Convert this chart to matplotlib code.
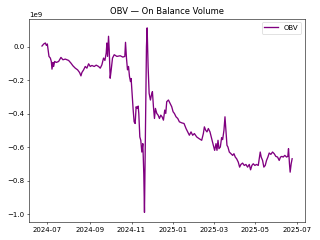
import pandas as pd
import matplotlib
matplotlib.use('Agg')
import matplotlib.pyplot as plt

# days after 2024-07-01
day_offsets = [
    -7.8, -5.3, -2.9, -1.5, 0, 1, 2.4, 4.4, 5.8, 6.8, 8.3, 9.2, 10.7, 13.1, 16.5,
    19.9, 22.8, 26.2, 31.1, 34.5, 37.4, 40.8, 44.2, 47.1, 49.1, 50.5, 53, 55.4,
    57.8, 60.3, 62.7, 65.1, 68.5, 71.4, 74.8, 77.3, 79.7, 82.1, 84.1, 86, 87, 88,
    89.4, 90.4, 91.8, 93.3, 95.2, 97.7, 101.6, 106.4, 110.3, 113.2, 114.2, 115.6,
    117.1, 118.6, 120, 121.5, 122.4, 123.9, 125.4, 126.8, 128.3, 129.7, 131.2,
    132.7, 133.6, 135.1, 136.5, 138, 139.5, 140.9, 141.9, 143.3, 144.8, 145.8,
    147.2, 148.7, 150.6, 152.1, 153.5, 155, 156.5, 157.9, 159.9, 161.8, 163.8,
    165.7, 167.6, 169.6, 171.5, 173, 174.4, 176.9, 179.3, 181.7, 183.7, 185.6,
    188, 190.5, 192.9, 196.3, 199.7, 202.6, 205, 207.5, 209.9, 212.3, 214.8,
    218.2, 221.6, 225.5, 227.9, 229.4, 231.3, 233.2, 235.2, 237.6, 240, 242.5,
    244.4, 246.4, 247.8, 249.3, 250.7, 252.7, 254.6, 256.1, 258, 259.5, 260.9,
    262.4, 263.8, 265.8, 268.2, 270.7, 272.6, 274.5, 276.5, 278.9, 280.9, 282.8,
    285.2, 287.7, 290.1, 292.5, 295, 296.9, 298.8, 300.8, 303.2, 305.6, 308.1,
    309.5, 311, 312.4, 314.4, 316.3, 318.3, 320.2, 322.2, 324.1, 326.5, 329,
    331.4, 333.8, 336.3, 338.7, 340.6, 342.6, 344.5, 346.9, 349.4, 351.3, 352.3,
    353.7, 354.7, 356.2, 357.6,
]

# OBV in units of 1e9
obv = [
    0.004, 0.016, 0.022, 0.008, 0.016, -0.014, -0.058, -0.068, -0.088, -0.134,
    -0.094, -0.118, -0.088, -0.094, -0.088, -0.064, -0.078, -0.074, -0.082,
    -0.098, -0.114, -0.128, -0.138, -0.154, -0.174, -0.154, -0.138, -0.118,
    -0.128, -0.102, -0.118, -0.112, -0.118, -0.11, -0.118, -0.128, -0.108,
    -0.068, -0.082, -0.038, 0.022, -0.058, 0.062, -0.018, -0.188, -0.138,
    -0.068, -0.048, -0.058, -0.054, -0.062, -0.058, 0.026, -0.068, -0.138,
    -0.118, -0.178, -0.208, -0.19, -0.288, -0.378, -0.448, -0.458, -0.358,
    -0.368, -0.354, -0.398, -0.538, -0.558, -0.628, -0.578, -0.758, -0.988,
    -0.518, 0.0, 0.112, -0.118, -0.278, -0.318, -0.288, -0.268, -0.358, -0.428,
    -0.368, -0.398, -0.408, -0.428, -0.408, -0.418, -0.438, -0.378, -0.398,
    -0.328, -0.318, -0.338, -0.358, -0.388, -0.398, -0.418, -0.428, -0.448,
    -0.454, -0.458, -0.488, -0.508, -0.528, -0.508, -0.528, -0.518, -0.538,
    -0.548, -0.558, -0.518, -0.478, -0.498, -0.508, -0.488, -0.508, -0.548,
    -0.588, -0.618, -0.578, -0.618, -0.558, -0.608, -0.598, -0.542, -0.554,
    -0.498, -0.418, -0.498, -0.588, -0.598, -0.628, -0.638, -0.648, -0.638,
    -0.658, -0.668, -0.688, -0.718, -0.702, -0.694, -0.708, -0.702, -0.718,
    -0.702, -0.734, -0.708, -0.698, -0.708, -0.702, -0.708, -0.668, -0.628,
    -0.658, -0.678, -0.718, -0.708, -0.678, -0.658, -0.634, -0.642, -0.628,
    -0.638, -0.654, -0.658, -0.678, -0.658, -0.654, -0.658, -0.648, -0.658,
    -0.654, -0.608, -0.698, -0.748, -0.698, -0.668,
]

start = pd.Timestamp('2024-07-01')
dates = start + pd.to_timedelta(day_offsets, unit='D')
values = [v * 1e9 for v in obv]

fig, ax = plt.subplots(figsize=(6.4, 4.8), dpi=50)
ax.plot(dates, values, color='purple', linewidth=1.9, label='OBV')
ax.set_title('OBV \u2014 On Balance Volume')
ax.legend(loc='upper right')
plt.tight_layout()
plt.savefig('out.png')
